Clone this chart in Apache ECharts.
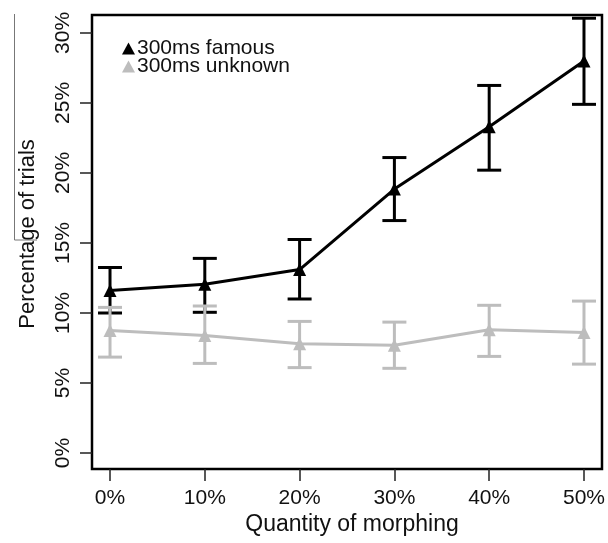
<!DOCTYPE html>
<html>
<head>
<meta charset="utf-8">
<script src="https://cdn.jsdelivr.net/npm/echarts@6/dist/echarts.min.js"></script>
<style>
  html, body { margin: 0; padding: 0; background: #fff; }
  #main { width: 608px; height: 543px; }
</style>
</head>
<body>
<div id="main"></div>
<script>
// morphing levels (%)
var morph = [0, 10, 20, 30, 40, 50];
var tickX = [0, 10, 20, 30, 40, 50];
var tickY = [0, 5, 10, 15, 20, 25, 30];

// 300ms famous
var famousMean = [11.6, 12.05, 13.1, 18.85, 23.3, 28.0];
var famousLow  = [10.0, 10.05, 11.0, 16.6, 20.2, 24.9];
var famousHigh = [13.25, 13.9, 15.25, 21.1, 26.25, 31.05];

// 300ms unknown
var unknownMean = [8.75, 8.4, 7.8, 7.7, 8.8, 8.6];
var unknownLow  = [6.85, 6.4, 6.1, 6.05, 6.9, 6.35];
var unknownHigh = [10.4, 10.5, 9.4, 9.35, 10.55, 10.85];

function pts(xs, ys) {
    return xs.map(function (x, i) { return [x, ys[i]]; });
}
function bars(xs, lo, hi) {
    return xs.map(function (x, i) { return [x, lo[i], hi[i]]; });
}

function errorBar(color) {
    return function (params, api) {
        var top = api.coord([api.value(0), api.value(2)]);
        var bot = api.coord([api.value(0), api.value(1)]);
        var w = 12;
        var st = { stroke: color, lineWidth: 3 };
        return {
            type: 'group',
            children: [
                { type: 'line', shape: { x1: top[0], y1: top[1], x2: bot[0], y2: bot[1] }, style: st },
                { type: 'line', shape: { x1: top[0] - w, y1: top[1], x2: top[0] + w, y2: top[1] }, style: st },
                { type: 'line', shape: { x1: bot[0] - w, y1: bot[1], x2: bot[0] + w, y2: bot[1] }, style: st }
            ]
        };
    };
}

var black = '#000';
var grey = '#bdbdbd';
var font = 'Liberation Sans, Arial, sans-serif';

function legendAt(name, top) {
    return {
        left: 117, top: top,
        itemWidth: 13, itemHeight: 12,
        icon: 'triangle',
        textStyle: { fontSize: 21, color: '#111', fontFamily: font, padding: [0, 0, 0, -3] },
        data: [name]
    };
}

var myChart = echarts.init(document.getElementById('main'));
var option = {
    backgroundColor: '#fff',
    animation: false,
    textStyle: { fontFamily: font },
    grid: {
        left: 92, top: 15, right: 6, bottom: 74,
        show: true, borderColor: black, borderWidth: 2.5, backgroundColor: 'transparent'
    },
    legend: [legendAt('300ms famous', 33), legendAt('300ms unknown', 51)],
    xAxis: {
        type: 'value',
        min: -1.9, max: 51.9,
        splitLine: { show: false },
        axisLine: { show: false, onZero: false },
        axisTick: { show: true, length: 12, customValues: tickX, lineStyle: { color: '#222', width: 1.5 } },
        axisLabel: { customValues: tickX, formatter: '{value}%', fontSize: 21, color: '#111', margin: 19 }
    },
    yAxis: {
        type: 'value',
        min: -1.14, max: 31.28,
        splitLine: { show: false },
        axisLine: { show: false, onZero: false },
        axisTick: { show: true, length: 12, customValues: tickY, lineStyle: { color: '#222', width: 1.5 } },
        axisLabel: { customValues: tickY, formatter: '{value}%', fontSize: 21, color: '#111', rotate: 90, margin: 18 }
    },
    graphic: [
        {
            type: 'text', x: 352, y: 525,
            style: { text: 'Quantity of morphing', fontSize: 23, fill: '#111', fontFamily: font, align: 'center', verticalAlign: 'middle' }
        },
        {
            type: 'text', x: 28, y: 234, rotation: Math.PI / 2,
            style: { text: 'Percentage of trials', fontSize: 22, fill: '#111', fontFamily: font, align: 'center', verticalAlign: 'middle' }
        },
        {
            type: 'polyline',
            shape: { points: [[14.5, 14], [14.5, 240], [37, 240]] },
            style: { stroke: '#777', lineWidth: 1, fill: null }
        }
    ],
    series: [
        {
            name: '300ms famous',
            type: 'line',
            data: pts(morph, famousMean),
            symbol: 'triangle', symbolSize: 13,
            itemStyle: { color: black },
            lineStyle: { color: black, width: 3 },
            clip: false, z: 3
        },
        {
            type: 'custom',
            renderItem: errorBar(black),
            data: bars(morph, famousLow, famousHigh),
            encode: { x: 0, y: [1, 2] },
            z: 3
        },
        {
            name: '300ms unknown',
            type: 'line',
            data: pts(morph, unknownMean),
            symbol: 'triangle', symbolSize: 13,
            itemStyle: { color: grey },
            lineStyle: { color: grey, width: 3 },
            clip: false, z: 4
        },
        {
            type: 'custom',
            renderItem: errorBar(grey),
            data: bars(morph, unknownLow, unknownHigh),
            encode: { x: 0, y: [1, 2] },
            z: 4
        }
    ]
};
myChart.setOption(option);
</script>
</body>
</html>
